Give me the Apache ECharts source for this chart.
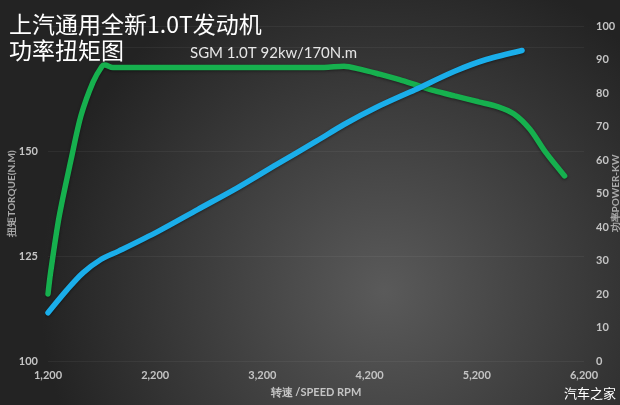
<!DOCTYPE html>
<html>
<head>
<meta charset="utf-8">
<script src="https://cdn.jsdelivr.net/npm/echarts@6/dist/echarts.min.js"></script>
<style>
  html, body { margin: 0; padding: 0; background: #2a2a2a; }
  #chart { width: 620px; height: 405px; }
</style>
</head>
<body>
<div id="chart"></div>
<script>
// 转速 rpm / 扭矩 N.m
var torqueRpm = [1200, 1224, 1305, 1416, 1508, 1620, 1704, 1730, 1804, 2400, 3000, 3775, 3961, 4109, 4293, 4478, 4661, 4810, 4994, 5215, 5400, 5547, 5694, 5843, 6019];
var torqueVal = [116, 121.1, 134.6, 148.2, 158.6, 166.6, 170.4, 170.7, 170.1, 170.1, 170.1, 170.1, 170.4, 169.7, 168.5, 167.2, 165.7, 164.5, 163.3, 161.9, 160.7, 159.0, 155.4, 149.8, 144.2];
// 转速 rpm / 功率 kW
var powerRpm = [1200, 1379, 1526, 1693, 1859, 2228, 2596, 2966, 3334, 3703, 3961, 4256, 4625, 4994, 5289, 5622];
var powerVal = [14.4, 21.3, 26.3, 30.3, 32.8, 38.7, 45.2, 51.7, 58.7, 65.6, 70.6, 75.6, 81.0, 86.5, 90.0, 92.7];
var torqueTicks = [100, 125, 150];

function pairs(xs, ys) {
  var out = [];
  for (var i = 0; i < xs.length; i++) out.push([xs[i], ys[i]]);
  return out;
}

var chart = echarts.init(document.getElementById("chart"));
var labelStyle = {
  color: "#c4c4c4",
  fontSize: 11,
  fontFamily: "Lato",
  fontWeight: "bold"
};

chart.setOption({
  backgroundColor: {
    type: "radial",
    x: 0.62,
    y: 0.72,
    r: 0.85,
    colorStops: [
      { offset: 0, color: "#5a5a5a" },
      { offset: 1, color: "#232323" }
    ]
  },
  animation: false,
  title: [
    {
      text: "上汽通用全新1.0T发动机\n功率扭矩图",
      left: 4,
      top: 6,
      textStyle: {
        color: "#ffffff",
        fontSize: 23,
        fontWeight: "normal",
        fontFamily: "Noto Sans CJK SC",
        lineHeight: 26
      }
    },
    {
      text: "SGM 1.0T 92kw/170N.m",
      left: 185,
      top: 41,
      textStyle: {
        color: "#e6e6e6",
        fontSize: 15,
        fontWeight: "normal",
        fontFamily: "Lato"
      }
    }
  ],
  graphic: [
    {
      type: "text",
      right: 4,
      bottom: 5,
      style: {
        text: "汽车之家",
        fill: "#ffffff",
        font: "13px 'Noto Sans CJK SC'"
      }
    }
  ],
  grid: {
    left: 48,
    right: 36,
    top: 26,
    bottom: 44,
    outerBoundsMode: "none"
  },
  xAxis: {
    type: "value",
    min: 1200,
    max: 6200,
    interval: 1000,
    name: "转速 /SPEED RPM",
    nameLocation: "middle",
    nameGap: 26,
    nameMoveOverlap: false,
    nameTextStyle: {
      color: "#c4c4c4",
      fontSize: 11,
      fontWeight: "bold",
      fontFamily: "Lato"
    },
    axisLine: { show: false },
    axisTick: { show: false },
    splitLine: { show: false },
    axisLabel: Object.assign({}, labelStyle, {
      margin: 9,
      formatter: function (v) {
        return v.toLocaleString("en-US");
      }
    })
  },
  yAxis: [
    {
      type: "value",
      min: 100,
      max: 180,
      interval: 25,
      name: "扭矩TORQUE(N.M)",
      nameLocation: "middle",
      nameRotate: 90,
      nameGap: 31,
      nameMoveOverlap: false,
      nameTextStyle: {
        color: "#a8a8a8",
        fontSize: 10,
        fontWeight: "bold",
        fontFamily: "Lato"
      },
      axisLine: { show: false },
      axisTick: { show: false },
      splitLine: {
        lineStyle: { color: "rgba(255,255,255,0.05)" }
      },
      axisLabel: Object.assign({}, labelStyle, {
        margin: 10,
        formatter: function (v) {
          return torqueTicks.indexOf(v) >= 0 ? String(v) : "";
        }
      })
    },
    {
      type: "value",
      min: 0,
      max: 100,
      interval: 10,
      position: "right",
      name: "功率POWER-KW",
      nameLocation: "middle",
      nameRotate: 90,
      nameGap: 27,
      nameMoveOverlap: false,
      nameTextStyle: {
        color: "#a8a8a8",
        fontSize: 10,
        fontWeight: "bold",
        fontFamily: "Lato"
      },
      axisLine: { show: false },
      axisTick: { show: false },
      splitLine: { show: false },
      axisLabel: Object.assign({}, labelStyle, { margin: 12 })
    }
  ],
  series: [
    {
      name: "扭矩",
      type: "line",
      yAxisIndex: 0,
      data: pairs(torqueRpm, torqueVal),
      smooth: 0.3,
      showSymbol: false,
      lineStyle: {
        color: "#16b04e",
        width: 5.5,
        cap: "round",
        shadowColor: "rgba(0,0,0,0.45)",
        shadowBlur: 3,
        shadowOffsetY: 1
      }
    },
    {
      name: "功率",
      type: "line",
      yAxisIndex: 1,
      data: pairs(powerRpm, powerVal),
      smooth: 0.3,
      showSymbol: false,
      lineStyle: {
        color: "#1aaeea",
        width: 5.5,
        cap: "round",
        shadowColor: "rgba(0,0,0,0.45)",
        shadowBlur: 3,
        shadowOffsetY: 1
      }
    }
  ]
});
</script>
</body>
</html>
